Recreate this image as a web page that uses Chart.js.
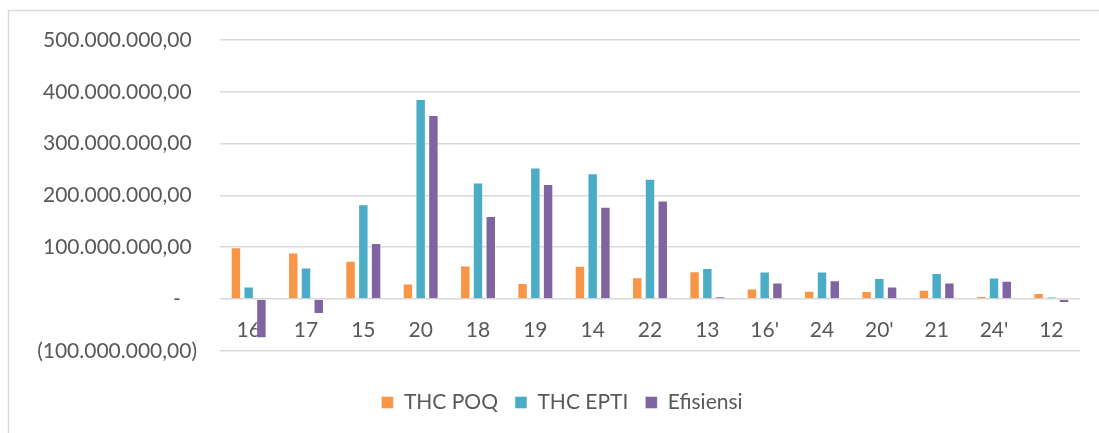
<!DOCTYPE html>
<html>
<head>
<meta charset="utf-8">
<script src="https://cdn.jsdelivr.net/npm/chart.js@4.4.1/dist/chart.umd.min.js"></script>
<style>
  html, body { margin: 0; padding: 0; background: #ffffff; }
  #wrap { width: 1099px; height: 433px; position: relative; }
</style>
</head>
<body>
<div id="wrap"><canvas id="c" width="1099" height="433"></canvas></div>
<script>
const categories = ["16", "17", "15", "20", "18", "19", "14", "22", "13", "16'", "24", "20'", "21", "24'", "12"];
const thcPOQ   = [100e6, 90e6, 74e6, 30e6, 64.5e6, 31e6, 64e6, 42e6, 53.5e6, 20.5e6, 16e6, 15.5e6, 18e6, 6e6, 11.6e6];
const thcEPTI  = [24e6, 61e6, 183e6, 386e6, 225e6, 254e6, 243e6, 232e6, 60e6, 53e6, 53e6, 40.7e6, 50.4e6, 41.3e6, 4.5e6];
const efisiensi = [-76e6, -29e6, 108e6, 355e6, 160e6, 222e6, 178e6, 190e6, 5e6, 32e6, 36e6, 24e6, 32e6, 35e6, -7.5e6];
const yTickValues = [-100e6, 0, 100e6, 200e6, 300e6, 400e6, 500e6];
const yTickLabels = ["(100.000.000,00)", "-", "100.000.000,00", "200.000.000,00", "300.000.000,00", "400.000.000,00", "500.000.000,00"];
const seriesNames = ["THC POQ", "THC EPTI", "Efisiensi"];

const TEXT = '#595959';
const GRID = '#d9d9d9';
Chart.defaults.font.family = 'Lato, "Liberation Sans", sans-serif';
Chart.defaults.font.size = 21;
Chart.defaults.color = TEXT;

const frame = {
  id: 'frame',
  afterLayout(chart) {
    const lg = chart.legend;
    if (lg) { lg.left += 22; lg.right += 22; }
  },
  beforeDraw(chart) {
    const ctx = chart.ctx;
    ctx.save();
    ctx.fillStyle = '#ffffff';
    ctx.fillRect(0, 0, chart.width, chart.height);
    ctx.strokeStyle = GRID;
    ctx.lineWidth = 1.5;
    ctx.beginPath();
    ctx.moveTo(8.5, chart.height);
    ctx.lineTo(8.5, 10.5);
    ctx.lineTo(chart.width, 10.5);
    ctx.stroke();
    ctx.restore();
  }
};

function ds(label, data, color) {
  return {
    label, data,
    backgroundColor: color,
    borderColor: 'rgba(255,255,255,0.45)',
    borderWidth: 1,
    barPercentage: 0.82,
    categoryPercentage: 0.667
  };
}

new Chart(document.getElementById('c'), {
  type: 'bar',
  data: {
    labels: categories,
    datasets: [
      ds(seriesNames[0], thcPOQ, '#F79646'),
      ds(seriesNames[1], thcEPTI, '#4BACC6'),
      ds(seriesNames[2], efisiensi, '#8064A2')
    ]
  },
  plugins: [frame],
  options: {
    responsive: false,
    animation: false,
    layout: { padding: { left: 0, right: 19, top: 40, bottom: 10 } },
    plugins: {
      tooltip: { enabled: false },
      legend: {
        position: 'bottom',
        title: { display: true, text: ' ', font: { size: 1 }, padding: { top: 12, bottom: 11 } },
        labels: { boxWidth: 12, boxHeight: 12, padding: 17, color: TEXT, font: { size: 21 } }
      }
    },
    scales: {
      x: {
        position: { y: 0 },
        grid: { display: false, drawTicks: false },
        border: { display: false },
        ticks: { padding: 19, color: TEXT, maxRotation: 0, autoSkip: false }
      },
      y: {
        min: -100e6, max: 500e6,
        afterBuildTicks(scale) { scale.ticks = yTickValues.map(v => ({ value: v })); },
        afterFit(scale) { scale.width = 220; },
        grid: { color: GRID, lineWidth: 1.5, drawTicks: false },
        border: { display: false },
        ticks: {
          padding: 23,
          color: TEXT,
          callback(v) {
            const i = yTickValues.indexOf(v);
            const s = i >= 0 ? yTickLabels[i] : '';
            if (v < 0) return s;
            if (v === 0) return s + '   ';
            return s + ' ';
          }
        }
      }
    }
  }
});
</script>
</body>
</html>
